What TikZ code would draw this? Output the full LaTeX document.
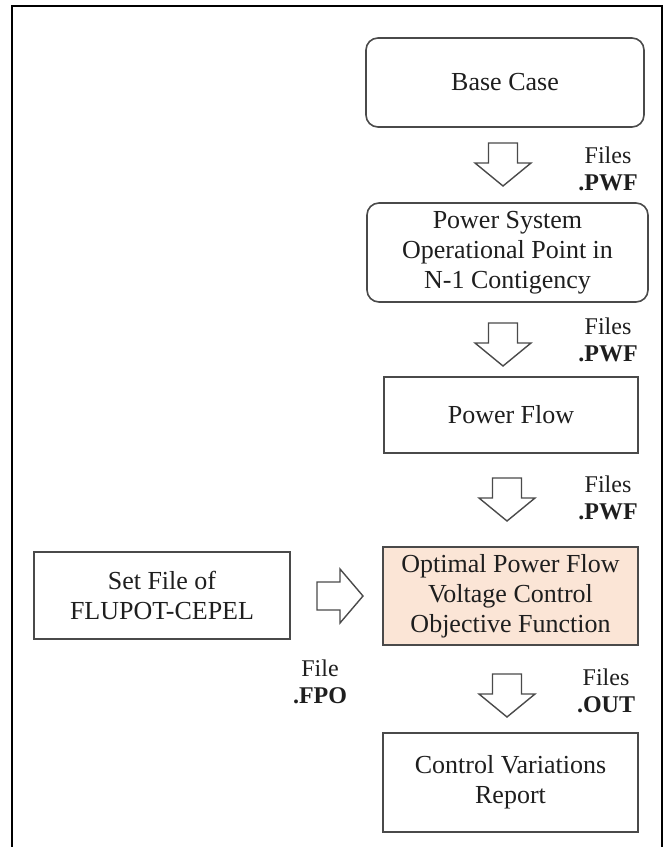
\documentclass[tikz,border=0pt]{standalone}
\usepackage{fontspec}
\setmainfont{Liberation Serif}
\usetikzlibrary{calc}
\definecolor{peach}{HTML}{FBE5D6}
\definecolor{boxline}{HTML}{4A4A4A}
\definecolor{txt}{HTML}{1E1E1E}
\tikzset{
  box/.style={draw=boxline, line width=1.6pt, align=center, text=txt,
    font=\fontsize{26}{30}\selectfont, inner sep=0pt},
  rbox/.style={box, rounded corners=12pt},
  lbl/.style={align=center, text=txt, font=\fontsize{24}{27}\selectfont, inner sep=0pt},
  harrow/.style={draw=boxline, line width=1.4pt, fill=white, line join=miter},
  downarrow/.pic={\draw[harrow] (-14.5,0) -- (14.5,0) -- (14.5,20) -- (28,20) -- (0,43) -- (-28,20) -- (-14.5,20) -- cycle;},
  rightarrow/.pic={\draw[harrow] (0,-14) -- (23,-14) -- (23,-27) -- (46,0) -- (23,27) -- (23,14) -- (0,14) -- cycle;}
}
\begin{document}
\begin{tikzpicture}[x=1pt,y=-1pt]
\useasboundingbox (0,0) rectangle (667,847);
\draw[line width=2pt, black] (12,860) -- (12,6) -- (662,6) -- (662,860);

\node[rbox, minimum width=278pt, minimum height=89pt] (base) at (505,82.5) {Base Case};
\node[rbox, minimum width=281pt, minimum height=99pt] (oper) at (507.5,252.5) {Power System\\Operational Point in\\N-1 Contigency};
\node[box, minimum width=254pt, minimum height=76pt] (pf) at (511,415) {Power Flow};
\node[box, fill=peach, minimum width=255pt, minimum height=98pt] (opf) at (510.5,596) {Optimal Power Flow\\Voltage Control\\Objective Function};
\node[box, minimum width=256pt, minimum height=87pt] (set) at (162,595.5) {Set File of\\FLUPOT-CEPEL};
\node[box, minimum width=255pt, minimum height=99pt] (ctrl) at (510.5,782.5) {Control Variations\\Report};

\coordinate (a1) at (503,143);
\coordinate (a2) at (503,323);
\coordinate (a3) at (507,478);
\coordinate (a4) at (507,674);
\coordinate (a5) at (317,596);
\pic at (a1) {downarrow};
\pic at (a2) {downarrow};
\pic at (a3) {downarrow};
\pic at (a4) {downarrow};
\pic at (a5) {rightarrow};

\node[lbl] (l1) at (608,169) {Files\\\textbf{.PWF}};
\node[lbl] (l2) at (608,340) {Files\\\textbf{.PWF}};
\node[lbl] (l3) at (608,497.5) {Files\\\textbf{.PWF}};
\node[lbl] (l4) at (606,690.5) {Files\\\textbf{.OUT}};
\node[lbl] (l5) at (320,682) {File\\\textbf{.FPO}};
\end{tikzpicture}
\end{document}
